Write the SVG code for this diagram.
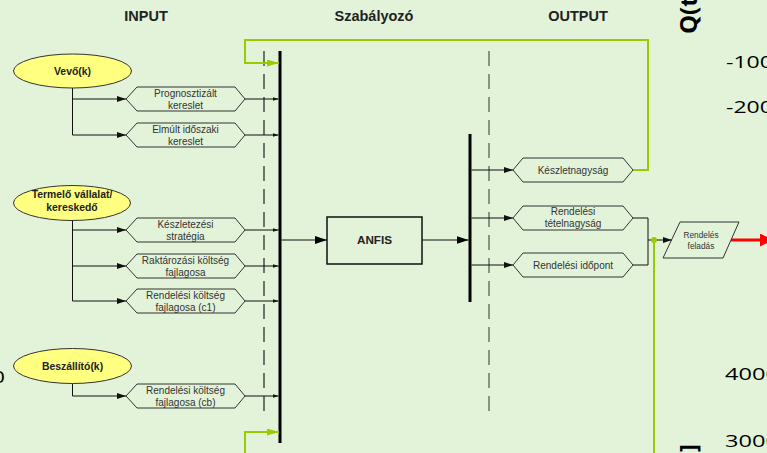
<svg xmlns="http://www.w3.org/2000/svg" width="767" height="453" viewBox="0 0 767 453">
<style>
.t{font-family:"Liberation Sans",Arial,sans-serif;fill:#222;text-anchor:middle}
.title{font-size:14.5px;font-weight:bold}
.h{font-size:10px;fill:#333}
.e{font-size:10.4px;font-weight:bold}
.el{fill:#ffff80;stroke:#333;stroke-width:1}
.hex{fill:none;stroke:#333;stroke-width:1}
.c{fill:none;stroke:#111;stroke-width:1}
.g{fill:none;stroke:#99cc00;stroke-width:2}
.bar{stroke:#000;stroke-width:3}
.ax{font-family:"Open Sans","Noto Sans",sans-serif;font-size:16.5px;fill:#000}
</style>
<defs>
<marker id="a9" markerWidth="9" markerHeight="6" refX="9" refY="3" orient="auto" markerUnits="userSpaceOnUse"><path d="M0,0 L9,3 L0,6 Z" fill="#111"/></marker>
<marker id="a6" markerWidth="6" markerHeight="4" refX="6" refY="2" orient="auto" markerUnits="userSpaceOnUse"><path d="M0,0 L6,2 L0,4 Z" fill="#111"/></marker>
<marker id="a12" markerWidth="12" markerHeight="8" refX="12" refY="4" orient="auto" markerUnits="userSpaceOnUse"><path d="M0,0 L12,4 L0,8 Z" fill="#000"/></marker>
<marker id="ag" markerWidth="12" markerHeight="7" refX="12" refY="3.5" orient="auto" markerUnits="userSpaceOnUse"><path d="M0,0 L12,3.5 L0,7 Z" fill="#99cc00"/></marker>
<marker id="ar" markerWidth="13" markerHeight="13" refX="1" refY="6.5" orient="auto" markerUnits="userSpaceOnUse"><path d="M0,0 L13,6.5 L0,13 Z" fill="#ff0000"/></marker>
</defs>
<rect x="0" y="0" width="767" height="453" fill="#e2f3da"/>

<!-- chart fragments in background -->
<g id="chart-fragments">
<text class="ax" x="726" y="68" textLength="47" lengthAdjust="spacingAndGlyphs">-100</text>
<text class="ax" x="726" y="113" textLength="47" lengthAdjust="spacingAndGlyphs">-200</text>
<text class="ax" x="725" y="380" textLength="54" lengthAdjust="spacingAndGlyphs">4000</text>
<text class="ax" x="725" y="447" textLength="54" lengthAdjust="spacingAndGlyphs">3000</text>
<text class="ax" x="-8" y="383" textLength="13" lengthAdjust="spacingAndGlyphs">0</text>
<text class="ax" transform="translate(697,34) rotate(-90)" style="font-size:24px;font-weight:bold">Q(t</text>
<text class="ax" transform="translate(697,452) rotate(-90)" style="font-size:24px;font-weight:bold">]</text>
</g>

<!-- titles -->
<g id="titles">
<text class="t title" x="146" y="21">INPUT</text>
<text class="t title" x="374" y="21">Szabályozó</text>
<text class="t title" x="578" y="21">OUTPUT</text>
</g>

<!-- connectors -->
<g id="connectors">
<!-- bars and dashed boundaries -->
<line class="bar" x1="280" y1="51" x2="280" y2="443"/>
<line class="bar" x1="470" y1="134" x2="470" y2="302"/>
<line x1="264" y1="51" x2="264" y2="419" stroke="#222" stroke-width="1.2" stroke-dasharray="15 8"/>
<line x1="489" y1="51" x2="489" y2="419" stroke="#667766" stroke-width="1.5" stroke-dasharray="15 8"/>
<!-- inputs -->
<path class="c" d="M72.5,88 V135"/>
<path class="c" d="M72.5,99 H126" marker-end="url(#a9)"/>
<path class="c" d="M72.5,135 H126" marker-end="url(#a9)"/>
<path class="c" d="M72.5,220.5 V301"/>
<path class="c" d="M72.5,230 H126" marker-end="url(#a9)"/>
<path class="c" d="M72.5,266 H126" marker-end="url(#a9)"/>
<path class="c" d="M72.5,301 H126" marker-end="url(#a9)"/>
<path class="c" d="M72.5,383.5 V396 H126" marker-end="url(#a9)"/>
<path class="c" d="M245,99 H278.5" marker-end="url(#a6)"/>
<path class="c" d="M245,135 H278.5" marker-end="url(#a6)"/>
<path class="c" d="M245,230 H278.5" marker-end="url(#a6)"/>
<path class="c" d="M245,266 H278.5" marker-end="url(#a6)"/>
<path class="c" d="M245,301 H278.5" marker-end="url(#a6)"/>
<path class="c" d="M245,396 H278.5" marker-end="url(#a6)"/>
<!-- ANFIS -->
<path class="c" d="M281.5,240 H327" stroke-width="1.5" marker-end="url(#a12)"/>
<path class="c" d="M422,240 H468.5" stroke-width="1.5" marker-end="url(#a12)"/>
<!-- outputs -->
<path class="c" d="M471.5,170 H513" marker-end="url(#a9)"/>
<path class="c" d="M471.5,218 H513" marker-end="url(#a9)"/>
<path class="c" d="M471.5,265 H513" marker-end="url(#a9)"/>
<path class="c" d="M633,218 H648 V265 H633"/>
<path class="c" d="M648,240 H672" marker-end="url(#a9)"/>
<!-- green feedback -->
<path class="g" d="M633,170 H648 V40 H245 V63 H279" marker-end="url(#ag)"/>
<path class="g" d="M245,453 V432 H279" marker-end="url(#ag)"/>
<path class="g" d="M654,240 V453"/>
<circle cx="654" cy="240" r="3" fill="#99cc00"/>
<!-- red output -->
<path d="M731,240 H761" stroke="#ff0000" stroke-width="3" fill="none" marker-end="url(#ar)"/>
</g>

<g id="vevo">
<ellipse class="el" cx="72.5" cy="71" rx="59" ry="17"/>
<text class="t e" x="72.5" y="74.5">Vevő(k)</text>
</g>
<g id="termelo">
<ellipse class="el" cx="72" cy="203" rx="58.5" ry="17.5"/>
<text class="t e" x="72" y="198">Termelő vállalat/</text>
<text class="t e" x="72" y="211">kereskedő</text>
</g>
<g id="beszallito">
<ellipse class="el" cx="72.5" cy="366" rx="59" ry="17.5"/>
<text class="t e" x="72.5" y="369.5">Beszállító(k)</text>
</g>

<g id="prognosztizalt">
<path class="hex" d="M126,99 L137,87 H235 L245,99 L235,111 H137 Z"/>
<text class="t h" x="185.5" y="96.5">Prognosztizált</text>
<text class="t h" x="185.5" y="108.5">kereslet</text>
</g>
<g id="elmult">
<path class="hex" d="M126,135 L137,123 H235 L245,135 L235,147 H137 Z"/>
<text class="t h" x="185.5" y="132.5">Elmúlt időszaki</text>
<text class="t h" x="185.5" y="144.5">kereslet</text>
</g>
<g id="keszletezesi">
<path class="hex" d="M126,230 L137,218 H235 L245,230 L235,242 H137 Z"/>
<text class="t h" x="185.5" y="227.5">Készletezési</text>
<text class="t h" x="185.5" y="239.5">stratégia</text>
</g>
<g id="raktarozasi">
<path class="hex" d="M126,266 L137,254 H235 L245,266 L235,278 H137 Z"/>
<text class="t h" x="185.5" y="263.5">Raktározási költség</text>
<text class="t h" x="185.5" y="275.5">fajlagosa</text>
</g>
<g id="rendelesi-c1">
<path class="hex" d="M126,301 L137,289 H235 L245,301 L235,313 H137 Z"/>
<text class="t h" x="185.5" y="298.5">Rendelési költség</text>
<text class="t h" x="185.5" y="310.5">fajlagosa (c1)</text>
</g>
<g id="rendelesi-cb">
<path class="hex" d="M126,396 L137,384 H235 L245,396 L235,408 H137 Z"/>
<text class="t h" x="185.5" y="393.5">Rendelési költség</text>
<text class="t h" x="185.5" y="405.5">fajlagosa (cb)</text>
</g>

<g id="anfis">
<rect x="327" y="217" width="95" height="47" fill="none" stroke="#111" stroke-width="1.5"/>
<text class="t" x="374.5" y="244" style="font-size:11.7px;font-weight:bold">ANFIS</text>
</g>

<g id="keszletnagysag">
<path class="hex" d="M513,170 L523,158 H623 L633,170 L623,182 H523 Z"/>
<text class="t h" x="573" y="173.5">Készletnagyság</text>
</g>
<g id="tetelnagysag">
<path class="hex" d="M513,218 L523,206 H623 L633,218 L623,230 H523 Z"/>
<text class="t h" x="573" y="215">Rendelési</text>
<text class="t h" x="573" y="227">tételnagyság</text>
</g>
<g id="idopont">
<path class="hex" d="M513,265 L523,253 H623 L633,265 L623,277 H523 Z"/>
<text class="t h" x="573" y="268.5">Rendelési időpont</text>
</g>

<g id="rendeles-feladas">
<path class="hex" d="M680,222 H739 L723,258 H663 Z"/>
<text class="t" x="701" y="238" style="font-size:8.3px;fill:#333">Rendelés</text>
<text class="t" x="701" y="248.5" style="font-size:8.3px;fill:#333">feladás</text>
</g>
</svg>
